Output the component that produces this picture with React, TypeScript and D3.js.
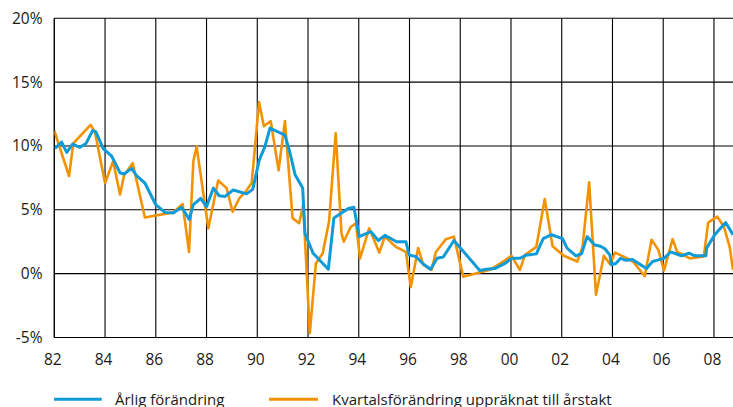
import React from "react";
import * as d3 from "d3";

// Årlig förändring (annual change), [decimal year, percent]
const annualChange: [number, number][] = [
  [1982.03, 9.8], [1982.29, 10.3], [1982.49, 9.5], [1982.72, 10.15], [1983.01, 9.9],
  [1983.25, 10.2], [1983.51, 11.2], [1983.64, 11.1], [1983.93, 9.8], [1984.26, 9.2],
  [1984.59, 7.9], [1984.75, 7.8], [1985.05, 8.25], [1985.25, 7.65], [1985.57, 7.1],
  [1986.0, 5.4], [1986.36, 4.8], [1986.69, 4.75], [1987.02, 5.2], [1987.32, 4.25],
  [1987.48, 5.4], [1987.77, 5.9], [1988.0, 5.25], [1988.27, 6.7], [1988.5, 6.1],
  [1988.73, 6.05], [1989.05, 6.55], [1989.58, 6.25], [1989.82, 6.6], [1990.08, 8.9],
  [1990.3, 9.95], [1990.5, 11.4], [1991.09, 10.85], [1991.29, 9.45], [1991.49, 7.75],
  [1991.79, 6.7], [1991.88, 3.15], [1992.2, 1.6], [1992.8, 0.35], [1993.02, 4.35],
  [1993.59, 5.1], [1993.81, 5.2], [1994.02, 2.9], [1994.47, 3.3], [1994.77, 2.6],
  [1995.03, 3.0], [1995.49, 2.5], [1995.86, 2.5], [1995.99, 1.45], [1996.25, 1.35],
  [1996.54, 0.75], [1996.83, 0.35], [1997.09, 1.2], [1997.33, 1.3], [1997.75, 2.6],
  [1998.77, 0.25], [1999.04, 0.35], [1999.36, 0.4], [1999.76, 0.8], [2000.02, 1.2],
  [2000.35, 1.2], [2000.59, 1.45], [2001.0, 1.55], [2001.27, 2.75], [2001.6, 3.05],
  [2002.03, 2.75], [2002.21, 2.0], [2002.56, 1.4], [2002.78, 1.55], [2003.0, 2.9],
  [2003.3, 2.25], [2003.53, 2.15], [2003.7, 1.95], [2003.9, 1.45], [2003.96, 0.7],
  [2004.13, 0.8], [2004.32, 1.2], [2004.53, 1.05], [2004.79, 1.1], [2005.34, 0.4],
  [2005.58, 0.95], [2006.03, 1.2], [2006.29, 1.7], [2006.72, 1.4], [2007.02, 1.6],
  [2007.25, 1.4], [2007.68, 1.4], [2007.71, 2.0], [2008.03, 3.05], [2008.46, 4.0],
  [2008.75, 3.05],
];

// Kvartalsförändring uppräknat till årstakt (quarterly change, annualised)
const quarterlyChange: [number, number][] = [
  [1982.0, 11.2], [1982.58, 7.65], [1982.75, 10.2], [1983.43, 11.65], [1983.6, 11.1],
  [1984.0, 7.1], [1984.32, 8.8], [1984.59, 6.2], [1984.75, 7.7], [1985.09, 8.65],
  [1985.57, 4.4], [1986.69, 4.8], [1987.06, 5.45], [1987.31, 1.7], [1987.48, 8.8],
  [1987.61, 9.95], [1988.07, 3.55], [1988.46, 7.3], [1988.79, 6.7], [1989.03, 4.85],
  [1989.29, 5.9], [1989.55, 6.45], [1989.78, 7.1], [1990.07, 13.45], [1990.26, 11.55],
  [1990.53, 11.95], [1990.84, 8.1], [1991.09, 11.95], [1991.39, 4.35], [1991.65, 3.95],
  [1991.81, 5.4], [1992.07, -4.65], [1992.31, 0.8], [1992.58, 1.6], [1992.83, 4.1],
  [1993.09, 11.0], [1993.32, 3.15], [1993.41, 2.5], [1993.68, 3.65], [1993.89, 3.95],
  [1994.05, 1.2], [1994.41, 3.55], [1994.81, 1.65], [1995.03, 2.9], [1995.46, 2.1],
  [1995.86, 1.7], [1996.05, -1.05], [1996.34, 2.0], [1996.54, 0.7], [1996.87, 0.3],
  [1997.04, 1.7], [1997.43, 2.7], [1997.75, 2.9], [1998.12, -0.25], [1999.17, 0.3],
  [1999.69, 0.95], [2000.02, 1.4], [2000.35, 0.3], [2000.55, 1.45], [2001.0, 2.1],
  [2001.33, 5.85], [2001.64, 2.15], [2002.08, 1.4], [2002.61, 0.95], [2002.82, 2.1],
  [2003.08, 7.15], [2003.35, -1.65], [2003.66, 1.4], [2003.9, 0.75], [2004.1, 1.65],
  [2004.42, 1.35], [2004.81, 0.95], [2005.27, -0.2], [2005.54, 2.65], [2005.8, 1.9],
  [2006.03, 0.25], [2006.37, 2.7], [2006.55, 1.7], [2007.05, 1.2], [2007.6, 1.35],
  [2007.77, 4.0], [2008.13, 4.47], [2008.39, 3.68], [2008.62, 2.1], [2008.75, 0.3],
];

const xTickYears = [1982, 1984, 1986, 1988, 1990, 1992, 1994, 1996, 1998, 2000, 2002, 2004, 2006, 2008];
const xTickLabels = ["82", "84", "86", "88", "90", "92", "94", "96", "98", "00", "02", "04", "06", "08"];
const yTicks = [-5, 0, 5, 10, 15, 20];
const yTickLabels = ["-5%", "0%", "5%", "10%", "15%", "20%"];
const seriesNames = ["Årlig förändring", "Kvartalsförändring uppräknat till årstakt"];

const BLUE = "#0f9ad8";
const ORANGE = "#f39200";
const FONT = "'Open Sans', sans-serif";

export default function App() {
  const W = 733, H = 407;
  const left = 54.3, right = 733, top = 18.3, bottom = 337.5;
  const x = d3.scaleLinear().domain([1982, 2008.75]).range([left, right]);
  const y = d3.scaleLinear().domain([-5, 20]).range([bottom, top]);
  const line = d3.line<[number, number]>().x(d => x(d[0])).y(d => y(d[1]));

  return (
    <svg width={W} height={H} style={{ position: "absolute", left: 0, top: 0, display: "block", background: "#fff" }}
      fontFamily={FONT}>
      <defs>
        <clipPath id="plot"><rect x={left} y={top - 2} width={right - left} height={bottom - top + 4} /></clipPath>
      </defs>
      {xTickYears.map(v => (
        <line key={"vx" + v} x1={x(v)} x2={x(v)} y1={top} y2={bottom} stroke="#000" strokeWidth={1.1} />
      ))}
      {yTicks.map(v => (
        <line key={"hy" + v} x1={left} x2={right} y1={y(v)} y2={y(v)} stroke="#000" strokeWidth={1.1} />
      ))}
      <line x1={left} x2={left} y1={top} y2={bottom} stroke="#000" strokeWidth={1.1} />
      <g clipPath="url(#plot)">
        <path d={line(quarterlyChange) || ""} fill="none" stroke={ORANGE} strokeWidth={2.6} strokeLinejoin="round" />
        <path d={line(annualChange) || ""} fill="none" stroke={BLUE} strokeWidth={3} strokeLinejoin="round" />
      </g>
      {yTicks.map((v, i) => (
        <text key={"yl" + v} x={42.5} y={y(v) + 5.5} textAnchor="end" fontSize={15.5} fill="#1a1a1a">{yTickLabels[i]}</text>
      ))}
      {xTickYears.map((v, i) => (
        <text key={"xl" + v} x={x(v) - 1.5} y={365} textAnchor="middle" fontSize={15.5} fill="#1a1a1a">{xTickLabels[i]}</text>
      ))}
      <line x1={54} x2={101.7} y1={399.3} y2={399.3} stroke={BLUE} strokeWidth={3} />
      <text x={115} y={405} fontSize={15} fill="#1a1a1a">{seriesNames[0]}</text>
      <line x1={269} x2={318} y1={399.3} y2={399.3} stroke={ORANGE} strokeWidth={3} />
      <text x={332} y={405} fontSize={15} fill="#1a1a1a">{seriesNames[1]}</text>
    </svg>
  );
}
